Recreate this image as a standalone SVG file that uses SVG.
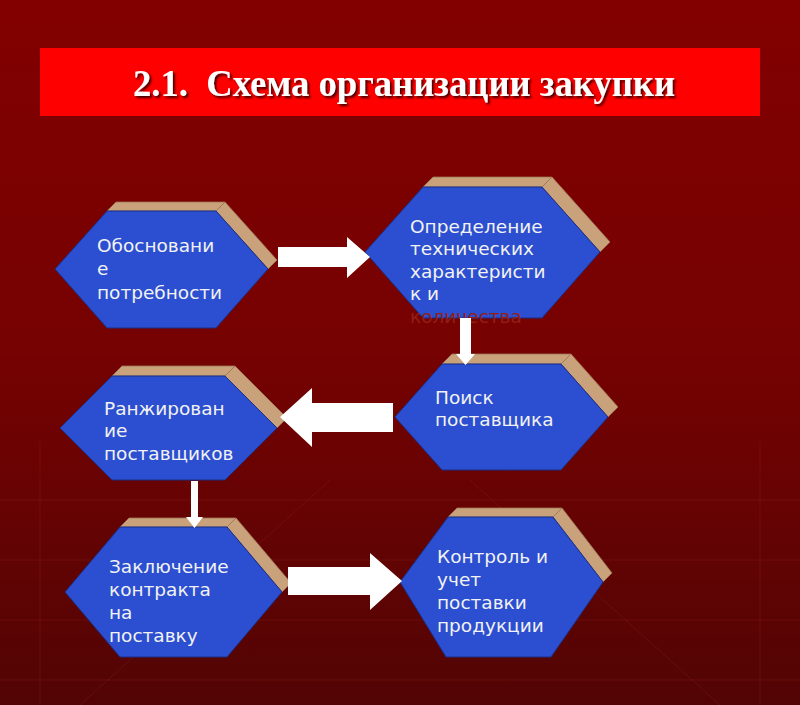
<svg xmlns="http://www.w3.org/2000/svg" width="800" height="705" viewBox="0 0 800 705">
<defs>
<linearGradient id="bg" x1="0" y1="0" x2="0" y2="1">
<stop offset="0" stop-color="#820000"/>
<stop offset="0.5" stop-color="#760202"/>
<stop offset="1" stop-color="#520404"/>
</linearGradient>
<filter id="shadow" x="-5%" y="-20%" width="110%" height="150%">
<feDropShadow dx="2" dy="2" stdDeviation="0.8" flood-color="#300000" flood-opacity="0.9"/>
</filter>
<style>
.face{fill:#2b4fd0;stroke:#1b2f86;stroke-width:1}
.side{fill:#c9a27c;stroke:#9c7656;stroke-width:0.8}
.lbl{font-family:"DejaVu Sans","Noto Sans",sans-serif;font-size:18.5px;fill:#f2f2f2}
.ghost{font-family:"DejaVu Sans","Noto Sans",sans-serif;font-size:18.5px;fill:#921f15}
.arrow{fill:#ffffff}
.grid{stroke:#a52a2a;stroke-opacity:0.25;stroke-width:1;fill:none}
</style>
</defs>
<rect x="0" y="0" width="800" height="705" fill="url(#bg)"/>
<g class="grid">
<line x1="0" y1="500" x2="800" y2="500"/>
<line x1="0" y1="560" x2="800" y2="560"/>
<line x1="0" y1="620" x2="800" y2="620"/>
<line x1="0" y1="680" x2="800" y2="680"/>
<line x1="80" y1="705" x2="330" y2="480"/>
<line x1="720" y1="705" x2="470" y2="480"/>
<line x1="760" y1="440" x2="760" y2="705"/>
<line x1="40" y1="440" x2="40" y2="705"/>
</g>
<g id="title">
<rect x="40" y="48" width="720" height="68" fill="#ff0000"/>
<text x="133" y="96" textLength="542" lengthAdjust="spacingAndGlyphs" font-family="'Liberation Serif',serif" font-weight="bold" font-size="38" fill="#ffffff" filter="url(#shadow)" xml:space="preserve">2.1.  Схема организации закупки</text>
</g>
<g id="n1">
<polygon class="side" points="107,211 116,202 225,202 216,211"/>
<polygon class="side" points="216,211 225,202 277,260 268,269"/>
<polygon class="face" points="107,211 216,211 268,269 216,328 107,328 55,269"/>
<text class="lbl" x="97" y="252">Обосновани</text>
<text class="lbl" x="97" y="275">е</text>
<text class="lbl" x="97" y="299">потребности</text>
</g>
<g id="n2">
<polygon class="side" points="423,187 433,177 552,177 542,187"/>
<polygon class="side" points="542,187 552,177 610,242 600,252"/>
<polygon class="face" points="423,187 542,187 600,252 542,318 423,318 365,252"/>
<text class="lbl" x="410" y="233">Определение</text>
<text class="lbl" x="410" y="255">технических</text>
<text class="lbl" x="410" y="278">характеристи</text>
<text class="lbl" x="410" y="300">к и</text>
<text class="ghost" x="410" y="323">количества</text>
</g>
<g id="n3">
<polygon class="side" points="442,364 452,354 571,354 561,364"/>
<polygon class="side" points="561,364 571,354 618,407 608,417"/>
<polygon class="face" points="442,364 561,364 608,417 561,470 442,470 395,417"/>
<text class="lbl" x="435" y="404">Поиск</text>
<text class="lbl" x="435" y="426">поставщика</text>
</g>
<g id="n4">
<polygon class="side" points="112,376 122,366 235,366 225,376"/>
<polygon class="side" points="225,376 235,366 287,418 277,428"/>
<polygon class="face" points="112,376 225,376 277,428 225,480 112,480 60,428"/>
<text class="lbl" x="104" y="415">Ранжирован</text>
<text class="lbl" x="104" y="437">ие</text>
<text class="lbl" x="104" y="460">поставщиков</text>
</g>
<g id="n5">
<polygon class="side" points="120,527 129,518 236,518 227,527"/>
<polygon class="side" points="227,527 236,518 291,583 282,592"/>
<polygon class="face" points="120,527 227,527 282,592 227,657 120,657 65,592"/>
<text class="lbl" x="109" y="573">Заключение</text>
<text class="lbl" x="109" y="596">контракта</text>
<text class="lbl" x="109" y="619">на</text>
<text class="lbl" x="109" y="642">поставку</text>
</g>
<g id="n6">
<polygon class="side" points="448,517 457,508 562,508 553,517"/>
<polygon class="side" points="553,517 562,508 612,573 603,582"/>
<polygon class="face" points="448,517 553,517 603,582 551,657 446,657 400,582"/>
<text class="lbl" x="437" y="563">Контроль и</text>
<text class="lbl" x="437" y="586">учет</text>
<text class="lbl" x="437" y="609">поставки</text>
<text class="lbl" x="437" y="632">продукции</text>
</g>
<g id="connectors">
<polygon class="arrow" points="278,247 347,247 347,237 370,257 347,278 347,267 278,267"/>
<polygon class="arrow" points="460,318 471,318 471,354 475,354 465.5,365 456,354 460,354"/>
<polygon class="arrow" points="393,403 312,403 312,388 280,417 312,447 312,432 393,432"/>
<polygon class="arrow" points="191,481 198,481 198,517 203,517 194.5,528 186,517 191,517"/>
<polygon class="arrow" points="288,567 370,567 370,553 402,581 370,610 370,595 288,595"/>
</g>
</svg>
